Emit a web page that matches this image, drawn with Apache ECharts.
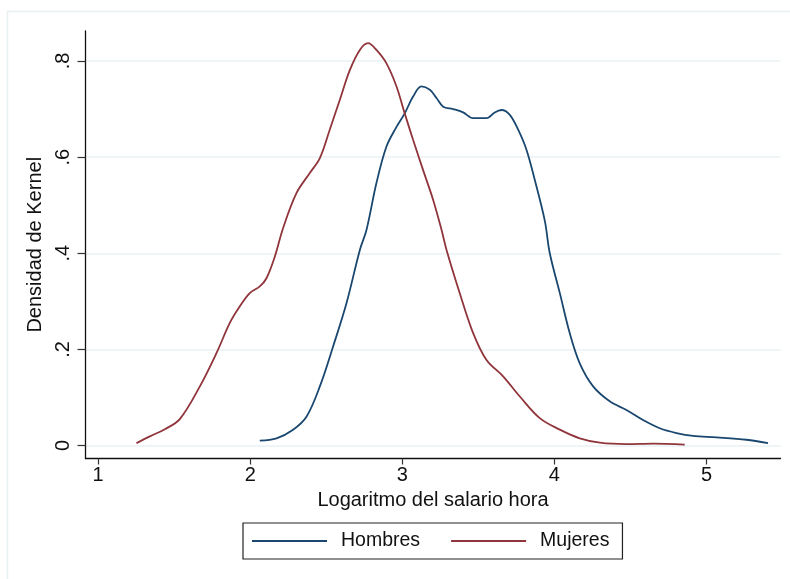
<!DOCTYPE html>
<html>
<head>
<meta charset="utf-8">
<script src="https://cdn.jsdelivr.net/npm/echarts@6/dist/echarts.min.js"></script>
<style>
html,body{margin:0;padding:0;background:#fff;}
#chart{width:790px;height:579px;}
</style>
</head>
<body>
<div id="chart"></div>
<script>
var seriesNames = ['Hombres', 'Mujeres'];
var xTicks = [1, 2, 3, 4, 5];
var yTicks = [0, 0.2, 0.4, 0.6, 0.8];
var yTickLabels = ['0', '.2', '.4', '.6', '.8'];
var xTitle = 'Logaritmo del salario hora';
var yTitle = 'Densidad de Kernel';

var hombresX = [2.063, 2.173, 2.282, 2.370, 2.458, 2.545, 2.633, 2.721, 2.765, 2.830, 2.896, 2.962, 3.016, 3.071, 3.126, 3.181, 3.225, 3.269, 3.334, 3.400, 3.466, 3.554, 3.608, 3.652, 3.707, 3.762, 3.817, 3.871, 3.937, 3.970, 4.036, 4.101, 4.167, 4.255, 4.364, 4.474, 4.583, 4.693, 4.803, 4.912, 5.066, 5.263, 5.405];
var hombresY = [0.010, 0.015, 0.033, 0.060, 0.123, 0.206, 0.296, 0.407, 0.449, 0.546, 0.622, 0.663, 0.691, 0.726, 0.747, 0.740, 0.723, 0.705, 0.700, 0.693, 0.681, 0.681, 0.693, 0.698, 0.688, 0.657, 0.615, 0.553, 0.468, 0.400, 0.317, 0.234, 0.171, 0.123, 0.092, 0.074, 0.053, 0.036, 0.026, 0.020, 0.017, 0.012, 0.005];

var mujeresX = [1.252, 1.340, 1.439, 1.537, 1.669, 1.778, 1.866, 1.931, 1.997, 2.063, 2.107, 2.162, 2.216, 2.304, 2.392, 2.458, 2.523, 2.589, 2.655, 2.721, 2.775, 2.830, 2.896, 2.962, 3.016, 3.071, 3.137, 3.203, 3.258, 3.291, 3.378, 3.466, 3.554, 3.663, 3.773, 3.904, 4.036, 4.167, 4.299, 4.474, 4.650, 4.857];
var mujeresY = [0.005, 0.019, 0.034, 0.055, 0.123, 0.192, 0.255, 0.289, 0.317, 0.331, 0.348, 0.393, 0.452, 0.525, 0.567, 0.598, 0.657, 0.719, 0.781, 0.823, 0.837, 0.823, 0.795, 0.747, 0.691, 0.636, 0.573, 0.511, 0.449, 0.407, 0.317, 0.234, 0.178, 0.144, 0.102, 0.057, 0.033, 0.015, 0.006, 0.003, 0.004, 0.002];

function pairs(xs, ys) { return xs.map(function (x, i) { return [x, ys[i]]; }); }

var FONT = '"Liberation Sans", Arial, Helvetica, sans-serif';
var chart = echarts.init(document.getElementById('chart'), null, {renderer: 'canvas'});
chart.setOption({
  animation: false,
  backgroundColor: '#ffffff',
  color: ['#1a476f', '#90353b'],
  graphic: [{
    type: 'rect', z: -10, silent: true,
    shape: {x: 7.5, y: 11.5, width: 800, height: 600},
    style: {fill: 'none', stroke: '#e9f0f1', lineWidth: 1.5}
  }],
  grid: {left: 85.5, right: 9.5, top: 31, bottom: 120.5, outerBoundsMode: 'none', containLabel: false},
  legend: {
    data: seriesNames,
    left: 243, top: 523,
    orient: 'horizontal',
    icon: 'rect',
    itemWidth: 75, itemHeight: 2, itemGap: 31,
    padding: [8, 13, 8, 9],
    borderColor: '#222', borderWidth: 1.2, borderRadius: 0,
    textStyle: {fontFamily: FONT, fontSize: 19.5, color: '#111', padding: [0, 0, 0, 9], lineHeight: 20}
  },
  xAxis: {
    type: 'value', min: 0.917, max: 5.487,
    name: xTitle, nameLocation: 'middle', nameGap: 32,
    nameTextStyle: {fontFamily: FONT, fontSize: 20, color: '#111'},
    axisLine: {show: true, onZero: false, lineStyle: {color: '#111', width: 1.3}},
    axisTick: {show: true, length: 6, customValues: xTicks, lineStyle: {color: '#333', width: 1.2}},
    axisLabel: {show: true, customValues: xTicks, margin: 7, fontFamily: FONT, fontSize: 20, color: '#111',
      formatter: function (v) { return String(v); }},
    splitLine: {show: false}
  },
  yAxis: {
    type: 'value', min: -0.027, max: 0.8624,
    name: yTitle, nameLocation: 'middle', nameGap: 36,
    nameTextStyle: {fontFamily: FONT, fontSize: 20, color: '#111'},
    axisLine: {show: true, onZero: false, lineStyle: {color: '#111', width: 1.3}},
    axisTick: {show: true, length: 8, customValues: yTicks, lineStyle: {color: '#333', width: 1.2}},
    axisLabel: {show: true, customValues: yTicks, rotate: 90, margin: 12, fontFamily: FONT, fontSize: 20, color: '#111',
      formatter: function (v) { var i = yTicks.indexOf(v); return i >= 0 ? yTickLabels[i] : ''; }},
    splitLine: {show: true, lineStyle: {color: '#eaf2f3', width: 1.6}}
  },
  series: [
    {name: seriesNames[0], type: 'line', data: pairs(hombresX, hombresY), smooth: 0.35, symbol: 'none', showSymbol: false,
      lineStyle: {color: '#1a476f', width: 1.8}, itemStyle: {color: '#1a476f'}},
    {name: seriesNames[1], type: 'line', data: pairs(mujeresX, mujeresY), smooth: 0.35, symbol: 'none', showSymbol: false,
      lineStyle: {color: '#90353b', width: 1.8}, itemStyle: {color: '#90353b'}}
  ]
});
</script>
</body>
</html>
